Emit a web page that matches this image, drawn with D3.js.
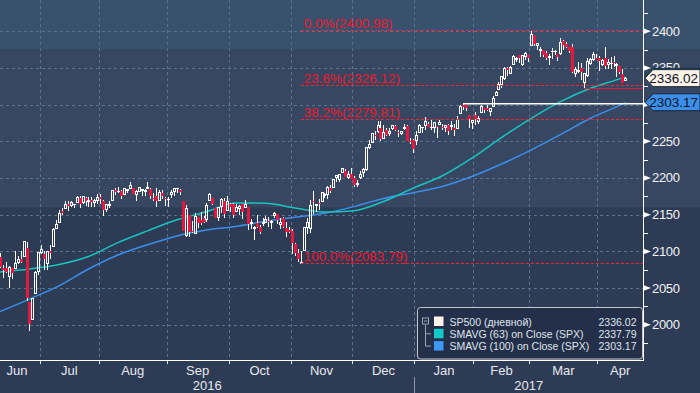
<!DOCTYPE html>
<html>
<head>
<meta charset="utf-8">
<script src="https://cdn.jsdelivr.net/npm/d3@7"></script>
<style>
  html, body { margin: 0; padding: 0; background: #2e3b55; }
  svg { display: block; font-family: "Liberation Sans", Arial, sans-serif; }
</style>
</head>
<body>
<div id="chart"></div>
<script>
// trading days shown, month by month
const months = ["2016-06", "2016-07", "2016-08", "2016-09", "2016-10", "2016-11", "2016-12", "2017-01", "2017-02", "2017-03", "2017-04"]
const monthLabels = ["Jun", "Jul", "Aug", "Sep", "Oct", "Nov", "Dec", "Jan", "Feb", "Mar", "Apr"]
const monthDays = [
  [13,14,15,16,17,20,21,22,23,24,27,28,29,30],
  [1,5,6,7,8,11,12,13,14,15,18,19,20,21,22,25,26,27,28,29],
  [1,2,3,4,5,8,9,10,11,12,15,16,17,18,19,22,23,24,25,26,29,30,31],
  [1,2,6,7,8,9,12,13,14,15,16,19,20,21,22,23,26,27,28,29,30],
  [3,4,5,6,7,10,11,12,13,14,17,18,19,20,21,24,25,26,27,28,31],
  [1,2,3,4,7,8,9,10,11,14,15,16,17,18,21,22,23,25,28,29,30],
  [1,2,5,6,7,8,9,12,13,14,15,16,19,20,21,22,23,27,28,29,30],
  [3,4,5,6,9,10,11,12,13,17,18,19,20,23,24,25,26,27,30,31],
  [1,2,3,6,7,8,9,10,13,14,15,16,17,21,22,23,24,27,28],
  [1,2,3,6,7,8,9,10,13,14,15,16,17,20,21,22,23,24,27,28,29,30,31],
  [3,4,5,6,7,10,11,12,13,17]
]

// SP500 daily candles
const open = [
  2092,2077,2078,2066,2078,2076,2085,2090,2093,2104,2031,2007,2043,2073,
  2099,2096,2083,2100,2107,2131,2140,2155,2158,2165,2162,2164,2166,2173,2166,2173,2168,2170,2166,2169,
  2174,2169,2157,2163,2169,2183,2182,2182,2177,2183,2186,2187,2177,2181,2184,2181,2187,2185,2173,2175,2170,2180,2173,
  2171,2177,2181,2186,2183,2169,2121,2149,2128,2124,2147,2143,2146,2144,2170,2173,2159,2146,2161,2169,2156,
  2165,2164,2155,2158,2164,2160,2161,2138,2131,2139,2133,2138,2140,2142,2140,2149,2151,2137,2145,2132,2129,
  2128,2110,2098,2084,2101,2132,2131,2168,2162,2166,2168,2177,2177,2187,2187,2201,2198,2207,2210,2201,2205,
  2200,2191,2201,2208,2211,2242,2249,2258,2263,2268,2254,2266,2260,2267,2271,2263,2261,2267,2271,2250,2252,
  2251,2262,2269,2271,2274,2269,2269,2271,2273,2269,2269,2272,2270,2268,2267,2288,2299,2299,2286,2275,
  2286,2277,2289,2295,2295,2290,2297,2312,2321,2327,2335,2350,2343,2355,2362,2368,2355,2366,2367,
  2381,2395,2380,2375,2374,2370,2364,2372,2372,2369,2370,2387,2383,2379,2379,2343,2346,2350,2330,2339,2356,2361,2364,
  2363,2355,2364,2354,2356,2358,2354,2353,2342,2333
]
const high = [
  2098,2081,2085,2080,2078,2101,2094,2100,2113,2113,2031,2036,2073,2099,
  2109,2100,2100,2109,2132,2143,2156,2159,2169,2169,2169,2164,2175,2175,2176,2174,2174,2174,2172,2178,
  2178,2170,2164,2169,2183,2186,2188,2183,2186,2185,2194,2187,2183,2188,2185,2185,2194,2186,2179,2187,2183,2183,2174,
  2174,2184,2187,2187,2185,2169,2163,2149,2141,2152,2147,2154,2148,2166,2179,2173,2159,2161,2173,2173,2176,
  2166,2166,2164,2163,2165,2170,2161,2144,2135,2149,2136,2145,2148,2147,2143,2154,2151,2146,2147,2140,2133,
  2131,2112,2103,2100,2132,2146,2170,2182,2165,2172,2181,2179,2189,2190,2198,2204,2205,2214,2212,2210,2214,
  2203,2197,2209,2213,2242,2252,2259,2264,2278,2277,2272,2268,2268,2272,2272,2265,2264,2274,2272,2255,2253,
  2264,2273,2270,2283,2276,2279,2275,2271,2279,2273,2272,2274,2277,2273,2285,2299,2301,2299,2286,2279,
  2290,2284,2299,2296,2300,2296,2312,2319,2331,2338,2351,2351,2352,2367,2365,2368,2367,2372,2368,
  2401,2395,2384,2378,2375,2373,2369,2377,2374,2369,2391,2388,2385,2379,2382,2351,2358,2357,2343,2364,2364,2371,2369,
  2366,2362,2379,2362,2365,2366,2356,2353,2348,2338
]
const low = [
  2078,2064,2070,2050,2063,2076,2083,2084,2093,2033,1992,2007,2043,2068,
  2096,2075,2075,2089,2107,2131,2140,2149,2158,2155,2160,2159,2166,2159,2164,2162,2161,2160,2160,2164,
  2164,2148,2154,2159,2169,2177,2180,2172,2177,2180,2186,2178,2169,2181,2176,2175,2186,2172,2169,2160,2170,2171,2162,
  2161,2173,2176,2180,2177,2128,2120,2120,2125,2124,2132,2136,2138,2140,2170,2163,2145,2141,2152,2145,2156,
  2154,2145,2154,2150,2144,2160,2129,2131,2115,2132,2124,2135,2138,2133,2131,2146,2137,2131,2132,2119,2125,
  2097,2094,2085,2084,2101,2124,2125,2151,2153,2156,2167,2173,2171,2180,2187,2194,2195,2207,2201,2199,2199,
  2188,2188,2199,2201,2209,2239,2248,2252,2261,2250,2254,2257,2257,2265,2264,2256,2259,2266,2250,2246,2234,
  2245,2262,2261,2266,2269,2265,2261,2255,2272,2265,2262,2259,2265,2257,2267,2288,2293,2291,2268,2267,
  2272,2273,2289,2288,2291,2285,2297,2312,2321,2322,2334,2339,2342,2355,2358,2356,2353,2361,2358,
  2381,2380,2375,2365,2365,2361,2354,2362,2368,2359,2368,2375,2377,2370,2343,2337,2343,2334,2322,2337,2354,2360,2362,
  2346,2353,2349,2348,2349,2351,2338,2341,2329,2332
]
const close = [
  2079,2075,2072,2078,2071,2083,2089,2085,2113,2037,2001,2036,2071,2099,
  2103,2089,2100,2098,2130,2137,2152,2152,2164,2162,2167,2164,2173,2165,2175,2168,2169,2167,2170,2174,
  2171,2157,2164,2164,2183,2181,2182,2175,2186,2184,2190,2178,2182,2187,2184,2183,2187,2175,2172,2169,2180,2176,2171,
  2171,2180,2186,2186,2181,2128,2159,2127,2126,2147,2139,2139,2140,2163,2177,2165,2146,2160,2171,2151,2168,
  2161,2150,2160,2161,2154,2164,2137,2139,2133,2133,2127,2140,2144,2141,2141,2151,2143,2139,2133,2126,2126,
  2112,2098,2089,2085,2132,2140,2163,2167,2164,2164,2180,2177,2187,2182,2198,2203,2205,2213,2202,2205,2199,
  2191,2192,2205,2212,2241,2246,2260,2257,2272,2253,2262,2258,2263,2271,2265,2261,2264,2269,2250,2249,2239,
  2258,2271,2269,2277,2269,2269,2275,2270,2275,2268,2272,2264,2271,2265,2280,2298,2297,2295,2281,2279,
  2280,2281,2297,2293,2293,2295,2308,2316,2328,2338,2349,2347,2351,2365,2363,2364,2367,2370,2364,
  2396,2382,2383,2375,2368,2363,2365,2373,2373,2365,2385,2381,2378,2373,2344,2348,2346,2344,2342,2359,2361,2368,2363,
  2359,2360,2353,2357,2356,2357,2354,2345,2329,2336.02
]

const maIndex = [0,10,20,30,40,50,60,70,80,90,100,110,120,130,140,150,160,170,180,190,200,210,212]
const sma63 = [2072,2076,2082,2093,2112,2128,2143,2154,2166,2165.5,2159,2153.5,2155.5,2168,2186,2203,2227,2255,2281,2304,2322,2335,2337.79]
const sma100 = [2018,2035,2053,2076,2095,2109,2121,2129,2134,2141,2146.5,2152,2161,2172,2180,2188.5,2202,2219,2238,2259,2281,2299,2303.17]

// fibonacci retracement from the Nov 4 low to the Mar 1 high
const fibStart = "2016-11-04"
const fibNames = ["0.0%", "23.6%", "38.2%", "100.0%"]
const fibValues = [2400.98, 2326.12, 2279.81, 2083.79]

// horizontal lines drawn on the chart
const hlineFrom = ["2017-01-26", "2017-03-27"]
const hlineValues = [2301, 2322.25]

const yTicks = [2000, 2050, 2100, 2150, 2200, 2250, 2300, 2350, 2400]
const yMinor = [1975, 2025, 2075, 2125, 2175, 2225, 2275, 2325, 2375, 2425]
const bandEdges = [2160, 2375]

const legendNames = ["SP500 (дневной)", "SMAVG (63) on Close (SPX)", "SMAVG (100) on Close (SPX)"]
const legendValues = ["2336.02", "2337.79", "2303.17"]

const WIDTH = 700, HEIGHT = 393
const PLOT_W = 643, PLOT_H = 360
const RED = "#e8173e", CYAN = "#17c4bf", BLUE = "#3b8fea", CREAM = "#fff3ea"

const dates = []
months.forEach((m, k) => monthDays[k].forEach(d => dates.push(m + "-" + String(d).padStart(2, "0"))))
const monthStart = []
let n = 0
monthDays.forEach(days => { monthStart.push(n); n += days.length })

const candles = dates.map((d, i) => ({ i, o: open[i], h: high[i], l: low[i], c: close[i] }))

const x = d3.scaleLinear().domain([0, dates.length - 1 + 6]).range([0, PLOT_W])
const y = d3.scaleLinear().domain([1952, 2442.5]).range([PLOT_H, 0])

const svg = d3.select("#chart").append("svg")
  .attr("width", WIDTH)
  .attr("height", HEIGHT)

// background bands
svg.append("rect").attr("width", WIDTH).attr("height", HEIGHT).attr("fill", "#2e3b55")
svg.append("rect").attr("x", 0).attr("width", WIDTH)
  .attr("y", y(bandEdges[1])).attr("height", y(bandEdges[0]) - y(bandEdges[1]))
  .attr("fill", "#374761")
svg.append("rect").attr("x", 0).attr("width", WIDTH)
  .attr("y", 0).attr("height", y(bandEdges[1]))
  .attr("fill", "#39516c")

svg.append("clipPath").attr("id", "plot")
  .append("rect").attr("width", PLOT_W).attr("height", PLOT_H)

// grid
const boundaries = monthStart.slice(1).map(s => s - 0.5)
const grid = svg.append("g").attr("stroke", "#58738f").attr("stroke-dasharray", "3,3").attr("shape-rendering", "crispEdges")
grid.selectAll(".gy").data(yTicks).join("line")
  .attr("x1", 0).attr("x2", PLOT_W)
  .attr("y1", d => Math.round(y(d)) + 0.5).attr("y2", d => Math.round(y(d)) + 0.5)
grid.selectAll(".gx").data(boundaries).join("line")
  .attr("x1", d => Math.round(x(d)) + 0.5).attr("x2", d => Math.round(x(d)) + 0.5)
  .attr("y1", 0).attr("y2", PLOT_H)

const plot = svg.append("g").attr("clip-path", "url(#plot)")

// moving averages
const line = d3.line().x(d => x(d[0])).y(d => y(d[1])).curve(d3.curveMonotoneX)
plot.append("path").datum(maIndex.map((i, k) => [i, sma100[k]]))
  .attr("fill", "none").attr("stroke", BLUE).attr("stroke-width", 1.5).attr("d", line)
plot.append("path").datum(maIndex.map((i, k) => [i, sma63[k]]))
  .attr("fill", "none").attr("stroke", CYAN).attr("stroke-width", 1.5).attr("d", line)

// fibonacci levels
const fx = x(dates.indexOf(fibStart))
const fib = svg.append("g")
fib.selectAll("line").data(fibValues).join("line")
  .attr("x1", fx).attr("x2", PLOT_W)
  .attr("y1", d => Math.round(y(d)) + 0.5).attr("y2", d => Math.round(y(d)) + 0.5)
  .attr("stroke", "#ff2230").attr("stroke-dasharray", "3,2")
fib.selectAll("text").data(fibValues).join("text")
  .attr("x", fx + 3).attr("y", d => y(d) - 2.5)
  .attr("fill", "#f0182c").attr("font-size", 13.5)
  .text((d, k) => `${fibNames[k]}(${d.toFixed(2)})`)

// horizontal marker lines
svg.append("line")
  .attr("x1", x(dates.indexOf(hlineFrom[0]))).attr("x2", PLOT_W)
  .attr("y1", y(hlineValues[0])).attr("y2", y(hlineValues[0]))
  .attr("stroke", "#ffffff").attr("stroke-width", 1.5)
svg.append("line")
  .attr("x1", x(dates.indexOf(hlineFrom[1]))).attr("x2", PLOT_W)
  .attr("y1", Math.round(y(hlineValues[1])) + 0.5).attr("y2", Math.round(y(hlineValues[1])) + 0.5)
  .attr("stroke", RED).attr("stroke-width", 1)

// candles
const cg = plot.append("g").attr("shape-rendering", "crispEdges")
candles.forEach(d => {
  const cx = Math.round(x(d.i))
  const top = Math.min(y(d.o), y(d.c)), bot = Math.max(y(d.o), y(d.c))
  const up = d.c >= d.o
  cg.append("line").attr("x1", cx + 0.5).attr("x2", cx + 0.5)
    .attr("y1", Math.min(y(d.h), top)).attr("y2", top).attr("stroke", "#fff")
  cg.append("line").attr("x1", cx + 0.5).attr("x2", cx + 0.5)
    .attr("y1", bot).attr("y2", Math.max(y(d.l), bot)).attr("stroke", "#fff")
  if (up) {
    cg.append("rect").attr("x", cx - 0.5).attr("width", 2)
      .attr("y", top).attr("height", Math.max(bot - top, 0.5))
      .attr("fill", "none").attr("stroke", "#fff")
  } else {
    cg.append("rect").attr("x", cx - 1).attr("width", 3)
      .attr("y", top).attr("height", Math.max(bot - top, 1))
      .attr("fill", RED)
  }
})

// axes
const axis = svg.append("g").attr("shape-rendering", "crispEdges")
axis.append("line").attr("x1", PLOT_W + 0.5).attr("x2", PLOT_W + 0.5).attr("y1", 0).attr("y2", PLOT_H)
  .attr("stroke", "#fff")
axis.append("line").attr("x1", 0).attr("x2", PLOT_W + 1).attr("y1", PLOT_H + 0.5).attr("y2", PLOT_H + 0.5)
  .attr("stroke", "#fff")
axis.selectAll(".mt").data(boundaries).join("line")
  .attr("x1", d => Math.round(x(d)) + 0.5).attr("x2", d => Math.round(x(d)) + 0.5)
  .attr("y1", PLOT_H).attr("y2", PLOT_H + 4).attr("stroke", "#fff")
axis.selectAll(".ym").data(yMinor).join("line")
  .attr("x1", PLOT_W).attr("x2", PLOT_W + 5)
  .attr("y1", d => Math.round(y(d)) + 0.5).attr("y2", d => Math.round(y(d)) + 0.5)
  .attr("stroke", "#fff")

svg.selectAll(".ytri").data(yTicks).join("path")
  .attr("d", d => `M${PLOT_W},${y(d) - 3}L${PLOT_W + 8},${y(d)}L${PLOT_W},${y(d) + 3}Z`)
  .attr("fill", "#fff")
// the 2300 label sits fully under the blue last-value tag, so it is not drawn
const hiddenUnder = +legendValues[2]
svg.selectAll(".ylab").data(yTicks.filter(t => Math.abs(y(t) - y(hiddenUnder)) > 8)).join("text")
  .attr("x", PLOT_W + 9).attr("y", d => y(d) + 4.5)
  .attr("fill", "#f2f4f7").attr("font-size", 13).attr("letter-spacing", -0.3)
  .text(d => d)

// month and year labels
const edges = [0, ...boundaries.map(b => x(b)), PLOT_W]
svg.selectAll(".mlab").data(monthLabels).join("text")
  .attr("x", (d, k) => (edges[k] + edges[k + 1]) / 2 - (k === 0 ? 3 : 0)).attr("y", 375)
  .attr("text-anchor", "middle").attr("fill", "#e6e9ee").attr("font-size", 13)
  .text(d => d)
const yearSplit = x(monthStart[months.indexOf("2017-01")] - 0.5)
svg.append("line").attr("x1", Math.round(yearSplit) + 0.5).attr("x2", Math.round(yearSplit) + 0.5)
  .attr("y1", 377).attr("y2", HEIGHT).attr("stroke", "#8a95a8")
svg.selectAll(".ylb").data([["2016", 0, yearSplit], ["2017", yearSplit, PLOT_W]]).join("text")
  .attr("x", d => (d[1] + d[2]) / 2).attr("y", 390)
  .attr("text-anchor", "middle").attr("fill", "#e6e9ee").attr("font-size", 13)
  .text(d => d[0])

// last value tags on the right axis
function tag(value, fill, label) {
  const cy = y(value)
  svg.append("path")
    .attr("d", `M${PLOT_W + 2},${cy}L${PLOT_W + 10},${cy - 8.5}L${WIDTH},${cy - 8.5}L${WIDTH},${cy + 8.5}L${PLOT_W + 10},${cy + 8.5}Z`)
    .attr("fill", fill).attr("stroke", "#1b2436").attr("stroke-width", 1)
  if (label) {
    svg.append("text").attr("x", WIDTH - 2).attr("y", cy + 5)
      .attr("text-anchor", "end").attr("fill", "#0c1526").attr("font-size", 13.5)
      .text(label)
  }
}
// the SMAVG(63) tag lies under the SP500 tag; only its edge shows
tag(+legendValues[1], CYAN, null)
tag(+legendValues[2], BLUE, legendValues[2])
tag(+legendValues[0], CREAM, legendValues[0])

// legend
const lg = svg.append("g")
lg.append("rect").attr("x", 417.5).attr("y", 307.5).attr("width", 225).attr("height", 51.5).attr("rx", 3)
  .attr("fill", "#243049").attr("stroke", "#c3c8d0")
const rowY = [321.5, 333.8, 346.1]
const sw = [CREAM, "#13c8c8", "#3d98f5"]
lg.append("rect").attr("x", 422.5).attr("y", rowY[0] - 3.5).attr("width", 6).attr("height", 6)
  .attr("fill", "none").attr("stroke", "#9aa3b0")
lg.append("line").attr("x1", 424).attr("x2", 427.5).attr("y1", rowY[0] - 0.5).attr("y2", rowY[0] - 0.5).attr("stroke", "#9aa3b0")
lg.append("path")
  .attr("d", `M425.5,${rowY[0] + 3}V${rowY[2]}H431M425.5,${rowY[1]}H431`)
  .attr("fill", "none").attr("stroke", "#9aa3b0")
lg.selectAll(".sw").data(sw).join("rect")
  .attr("x", 434).attr("y", (d, k) => rowY[k] - 5).attr("width", 9.5).attr("height", 9.5)
  .attr("fill", d => d)
lg.selectAll(".ln").data(legendNames).join("text")
  .attr("x", 449.5).attr("y", (d, k) => rowY[k] + 4)
  .attr("fill", "#dfe4ec").attr("font-size", 10.5)
  .text(d => d)
lg.selectAll(".lv").data(legendValues).join("text")
  .attr("x", 636.5).attr("y", (d, k) => rowY[k] + 4)
  .attr("text-anchor", "end").attr("fill", "#dfe4ec").attr("font-size", 10.5)
  .text(d => d)
</script>
</body>
</html>
